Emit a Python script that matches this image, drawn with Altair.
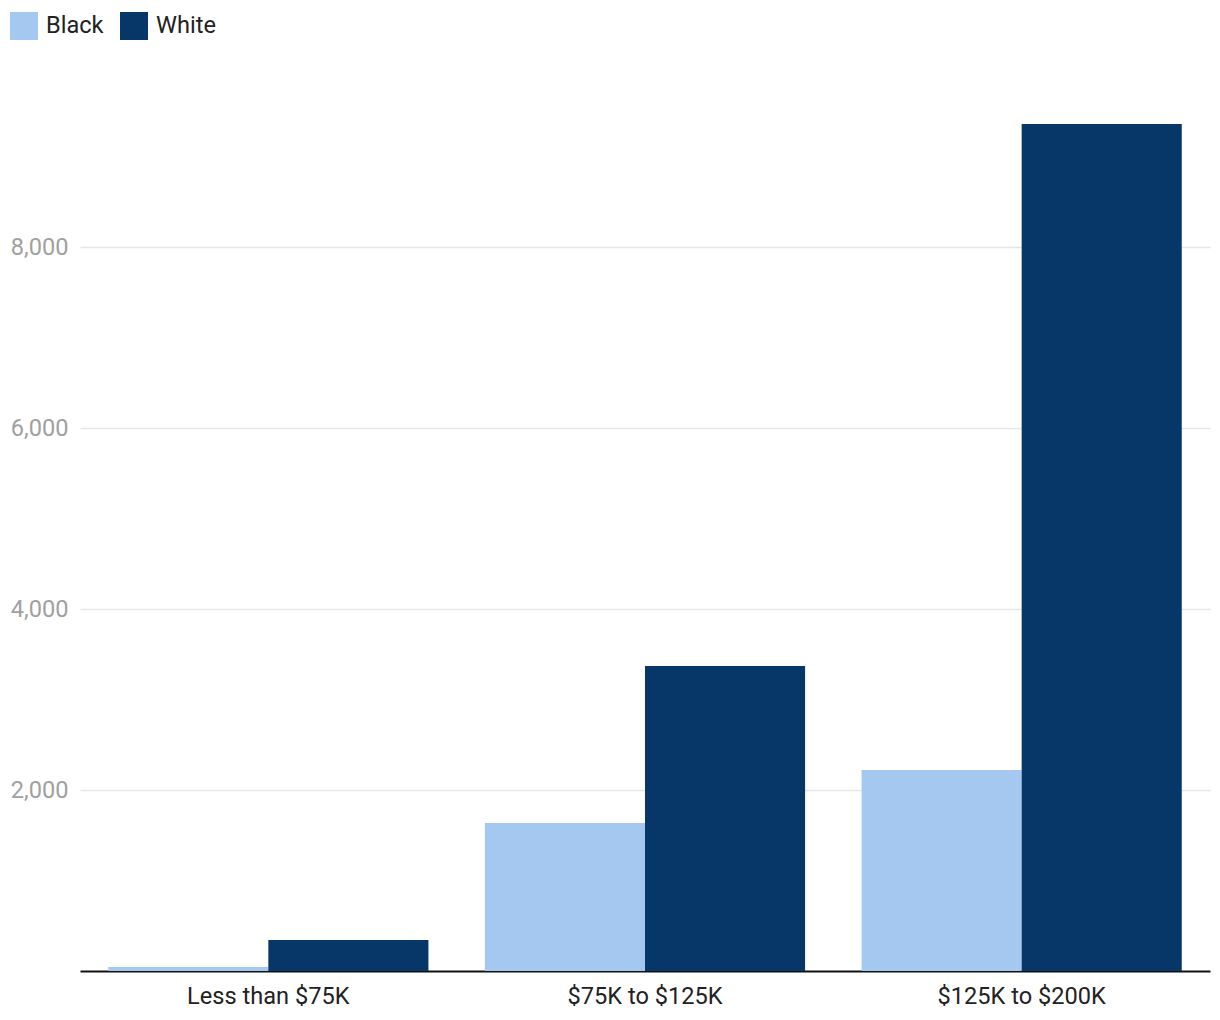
import altair as alt
import pandas as pd

categories = ["Less than $75K", "$75K to $125K", "$125K to $200K"]
groups = ["Black", "White"]
black_values = [44, 1635, 2221]
white_values = [343, 3370, 9359]
y_ticks = [2000, 4000, 6000, 8000]
colors = ["#a5c8f0", "#063768"]

rows = []
for c, b, w in zip(categories, black_values, white_values):
    rows.append({"income": c, "race": "Black", "value": b})
    rows.append({"income": c, "race": "White", "value": w})
df = pd.DataFrame(rows)

FONT = "Roboto"
FS = 23.6

chart = alt.Chart(df).mark_bar(strokeWidth=0).encode(
    x=alt.X("income:N", sort=categories, title=None,
            scale=alt.Scale(paddingInner=0.15, paddingOuter=0.075),
            axis=alt.Axis(labelAngle=0, labelFontSize=FS, labelColor="#222222",
                          labelFont=FONT, ticks=False, labelPadding=13,
                          domainColor="#111111", domainWidth=2, grid=False)),
    xOffset=alt.XOffset("race:N", sort=groups,
                        scale=alt.Scale(paddingInner=0, paddingOuter=0)),
    y=alt.Y("value:Q", title=None,
            scale=alt.Scale(domain=[0, 10000], nice=False),
            axis=alt.Axis(values=y_ticks, format=",.0f", labelFontSize=FS,
                          labelColor="#a0a0a0", labelFont=FONT, ticks=False,
                          domain=False, labelPadding=12, gridColor="#e6e6e6",
                          gridWidth=1.5)),
    color=alt.Color("race:N", sort=groups,
                    scale=alt.Scale(domain=groups, range=colors),
                    legend=alt.Legend(title=None, orient="none", direction="horizontal",
                                      legendX=-70, legendY=-54, symbolType="square",
                                      symbolSize=784, symbolStrokeWidth=0,
                                      labelFontSize=FS, labelFont=FONT,
                                      labelColor="#222222", labelOffset=8,
                                      labelBaseline="middle", labelLimit=0,
                                      columnPadding=16, padding=0)),
).properties(
    width=1130, height=905,
    padding={"left": 80, "top": 66, "right": 10, "bottom": 49},
    autosize=alt.AutoSizeParams(type="none"),
).configure_view(stroke=None).configure_axis(gridOpacity=1)

chart.save("out.html", embed_options={"renderer": "svg", "actions": False})
